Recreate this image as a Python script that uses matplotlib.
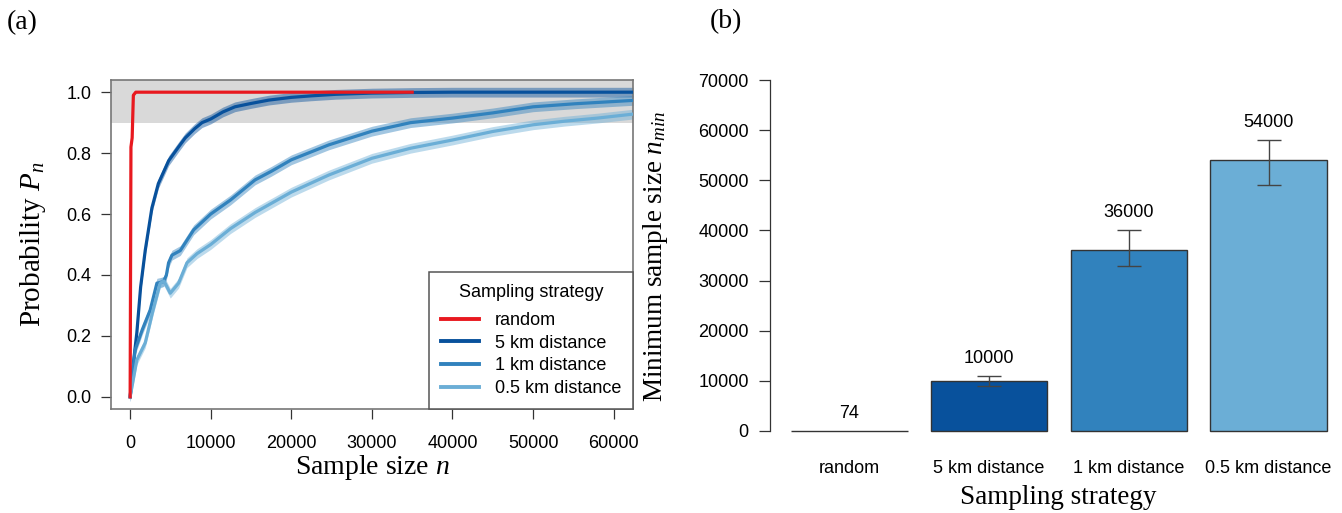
import numpy as np
import matplotlib
matplotlib.use("Agg")
from matplotlib import pyplot as plt

plt.rcParams['font.family'] = ['Liberation Sans', 'DejaVu Sans']
plt.rcParams['mathtext.fontset'] = 'custom'
plt.rcParams['mathtext.rm'] = 'Liberation Serif'
plt.rcParams['mathtext.it'] = 'Liberation Serif:italic'

# ---- data: panel (a), probability curves ----
n_rand = [0, 100, 250, 400, 700, 35000]
p_rand = [0, 0.82, 0.85, 0.99, 1.0, 1.0]

n_5km = [0, 400, 830, 1300, 1870, 2700, 3500, 4780, 6000, 6840, 8000, 8920, 10000,
         11500, 13000, 15000, 17200, 20000, 22500, 25500, 30000, 35000, 40000, 50000, 62400]
p_5km = [0, 0.11, 0.21, 0.36, 0.48, 0.62, 0.70, 0.775, 0.82, 0.85, 0.88, 0.90, 0.912,
         0.935, 0.952, 0.963, 0.974, 0.983, 0.988, 0.993, 0.997, 0.999, 1.0, 1.0, 1.0]

n_1km = [0, 620, 1500, 2490, 3320, 4150, 4500, 4770, 5190, 6220, 7880, 10000, 12450,
         15500, 17500, 20000, 24650, 30000, 34800, 40000, 45000, 50000, 55200, 62400]
p_1km = [0, 0.154, 0.22, 0.285, 0.373, 0.378, 0.40, 0.44, 0.465, 0.48, 0.548, 0.60, 0.646,
         0.712, 0.74, 0.778, 0.827, 0.872, 0.90, 0.915, 0.932, 0.952, 0.962, 0.973]

n_05km = [0, 830, 1870, 2800, 3730, 4200, 4980, 6010, 7050, 8300, 10000, 12450, 15500,
          20000, 24650, 30000, 34800, 40000, 45000, 50000, 54000, 58000, 62400]
p_05km = [0, 0.121, 0.177, 0.28, 0.373, 0.38, 0.34, 0.373, 0.44, 0.47, 0.50, 0.552, 0.605,
          0.672, 0.728, 0.783, 0.816, 0.843, 0.871, 0.893, 0.905, 0.915, 0.928]

strategies = ['random', '5 km distance', '1 km distance', '0.5 km distance']
colors = ['#E8191F', '#08519C', '#3182BD', '#6BAED6']

# ---- data: panel (b), minimum sample size ----
n_min = [74, 10000, 36000, 54000]
n_min_lo = [74, 9000, 33000, 49000]
n_min_hi = [74, 11000, 40000, 58000]

W, H = 1342, 513
fig = plt.figure(figsize=(W / 100, H / 100), dpi=100)


def px_axes(x0, y0, x1, y1):
    # pixel box (top-left origin) -> figure axes
    return fig.add_axes([x0 / W, 1 - y1 / H, (x1 - x0) / W, (y1 - y0) / H])


# ================= panel (a) =================
ax = px_axes(110.8, 80, 633, 409)
ax.axhspan(0.9, 1.1, color='#D9D9D9', lw=0, zorder=0)

curves = [(n_5km, p_5km), (n_1km, p_1km), (n_05km, p_05km)]
for (xs, ps), c in zip(curves, colors[1:]):
    xs = np.array(xs)
    ps = np.array(ps)
    ax.fill_between(xs, ps - 0.016, ps + 0.016, color=c, alpha=0.45, lw=0, zorder=2)
    ax.plot(xs, ps, color=c, lw=2.3, zorder=3)
ax.plot(n_rand, p_rand, color=colors[0], lw=2.3, zorder=4)

ax.set_xlim(-2400, 62400)
ax.set_ylim(-0.04, 1.04)
ax.set_xticks(range(0, 60001, 10000))
ax.set_yticks([0, 0.2, 0.4, 0.6, 0.8, 1.0])
ax.set_yticklabels(['0.0', '0.2', '0.4', '0.6', '0.8', '1.0'])
ax.tick_params(axis='both', labelsize=13, length=7, width=0.9, color='#333333')
ax.tick_params(axis='y', pad=7)
ax.tick_params(axis='x', pad=12)
for s in ax.spines.values():
    s.set_color('#777777')
    s.set_linewidth(1.2)

handles = [plt.Line2D([], [], color=c, lw=2.8) for c in colors]
leg = ax.legend(handles, strategies, title='Sampling strategy', loc='lower right',
                bbox_to_anchor=(1, 0), borderaxespad=0, fontsize=13, title_fontsize=13,
                handlelength=2.1, handletextpad=0.9, labelspacing=0.32,
                borderpad=0.65, fancybox=False, framealpha=1)
leg._legend_box.sep = 8
leg.get_frame().set_edgecolor('#555555')
leg.get_frame().set_linewidth(1.1)
leg.set_zorder(5)

fig.text(372 / W, 1 - 468 / H, 'Sample size $n$', family='Liberation Serif',
         fontsize=20, ha='center', va='center')
fig.text(33 / W, 1 - 244 / H, 'Probability $P_n$', family='Liberation Serif',
         fontsize=21, ha='center', va='center', rotation=90)
fig.text(7 / W, 1 - 23 / H, '(a)', family='Liberation Serif', fontsize=20,
         ha='left', va='center')

# ================= panel (b) =================
bx = px_axes(769.6, 66, 1342, 445)
pos = [0.7, 1.9, 3.1, 4.3]
bx.bar(pos, n_min, width=1.0, color=colors, edgecolor='#333333', linewidth=1.0, zorder=2)
err_lo = np.array(n_min) - np.array(n_min_lo)
err_hi = np.array(n_min_hi) - np.array(n_min)
bx.errorbar(pos[1:], n_min[1:], yerr=[err_lo[1:], err_hi[1:]], fmt='none',
            ecolor='#444444', elinewidth=1.0, capsize=8.5, capthick=1.0, zorder=3)
for p, v, h in zip(pos, n_min, n_min_hi):
    bx.text(p, h + 3500, str(v), ha='center', va='center', fontsize=13)

bx.set_xlim(0.016, 0.016 + (1342 - 769.6) / 116.5)
bx.set_ylim(-2800, 72800)
bx.set_yticks(range(0, 70001, 10000))
bx.set_xticks(pos)
bx.set_xticklabels(strategies)
bx.tick_params(axis='y', labelsize=13, length=8, width=0.9, color='#333333', pad=7)
bx.tick_params(axis='x', labelsize=13, length=0, pad=11)
for side in ['top', 'right', 'bottom']:
    bx.spines[side].set_visible(False)
bx.spines['left'].set_bounds(0, 70000)
bx.spines['left'].set_color('#333333')
bx.spines['left'].set_linewidth(0.9)

fig.text(1058 / W, 1 - 497 / H, 'Sampling strategy', family='Liberation Serif',
         fontsize=19.5, ha='center', va='center')
fig.text(655 / W, 1 - 256 / H, 'Minimum sample size $n_{min}$', family='Liberation Serif',
         fontsize=19.5, ha='center', va='center', rotation=90)
fig.text(710 / W, 1 - 22 / H, '(b)', family='Liberation Serif', fontsize=20,
         ha='left', va='center')

fig.savefig('out.png', dpi=100)
